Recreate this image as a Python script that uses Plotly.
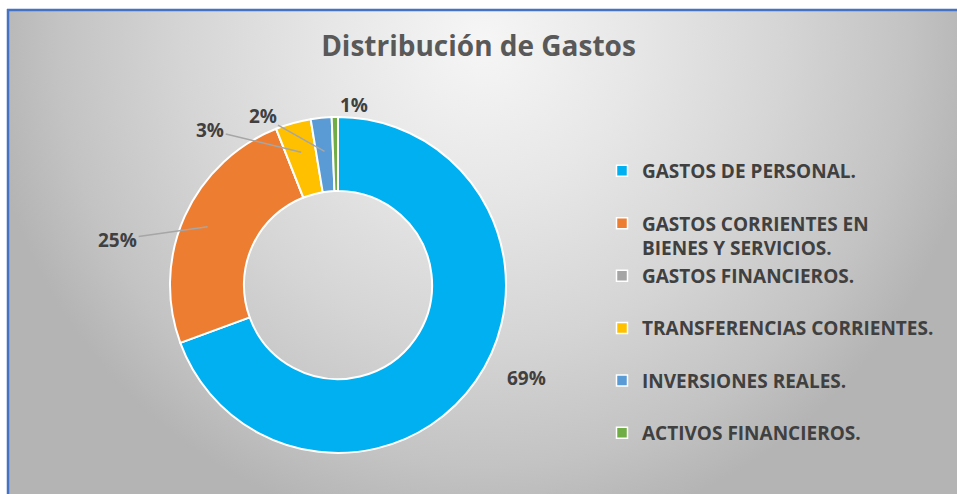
import math
import base64
import plotly.graph_objects as go

# ---------------- data ----------------
categories = [
    "GASTOS DE PERSONAL.",
    "GASTOS CORRIENTES EN BIENES Y SERVICIOS.",
    "GASTOS FINANCIEROS.",
    "TRANSFERENCIAS CORRIENTES.",
    "INVERSIONES REALES.",
    "ACTIVOS FINANCIEROS.",
]
legend_labels = [
    "GASTOS DE PERSONAL.",
    "GASTOS CORRIENTES EN<br>BIENES Y SERVICIOS.",
    "GASTOS FINANCIEROS.",
    "TRANSFERENCIAS CORRIENTES.",
    "INVERSIONES REALES.",
    "ACTIVOS FINANCIEROS.",
]
values = [69.4, 24.6, 0.0, 3.4, 2.0, 0.6]
colors = ["#00B0F0", "#ED7D31", "#A5A5A5", "#FFC000", "#5B9BD5", "#70AD47"]
title_text = "Distribución de Gastos"

# ---------------- layout / style ----------------
W, H = 957, 494
PCX, PCY, PR = 338, 285, 168          # donut centre / radius in pixels
hole = 0.56
pie_dom_x = [(PCX - PR) / W, (PCX + PR) / W]
pie_dom_y = [(H - PCY - PR) / H, (H - PCY + PR) / H]
# per-slice label style: (radius fraction of leader tip, text dx, text dy, show line)
label_style = [
    (1.00, 51, -3, False),
    (0.85, -90, 13, True),
    None,
    (0.82, -91, -22, True),
    (0.80, -62, -35, True),
    (1.00, 19, -12, False),
]
label_font = dict(family="Open Sans", size=19, color="#404040", weight="bold")

# background gradient (Excel-like radial grey)
bg_w, bg_h = W - 9, H - 11
svg = (
    f"<svg xmlns='http://www.w3.org/2000/svg' width='{bg_w}' height='{bg_h}'>"
    "<defs><radialGradient id='g' gradientUnits='userSpaceOnUse' "
    f"cx='{bg_w/2}' cy='30' r='500'>"
    "<stop offset='0' stop-color='#f6f6f6'/>"
    "<stop offset='0.3' stop-color='#e7e7e7'/>"
    "<stop offset='0.6' stop-color='#d5d5d5'/>"
    "<stop offset='0.85' stop-color='#c3c3c3'/>"
    "<stop offset='1' stop-color='#b4b4b4'/>"
    "</radialGradient></defs>"
    f"<rect width='{bg_w}' height='{bg_h}' fill='url(#g)'/></svg>"
)
bg_src = "data:image/svg+xml;base64," + base64.b64encode(svg.encode()).decode()

total = sum(values)
fig = go.Figure()

fig.add_trace(go.Pie(
    labels=categories, values=values, sort=False, direction="clockwise",
    rotation=0, hole=hole, textinfo="none", hoverinfo="label+percent",
    marker=dict(colors=colors, line=dict(color="white", width=2)),
    domain=dict(x=pie_dom_x, y=pie_dom_y), showlegend=False,
))

# legend entries
for lab, col in zip(legend_labels, colors):
    if "<br>" not in lab:
        lab = lab + "<br>&nbsp;"
    fig.add_trace(go.Scatter(
        x=[-10], y=[-10], mode="markers", name=lab,
        marker=dict(symbol="square", size=11, color=col,
                    line=dict(color="white", width=1.5)),
        hoverinfo="skip",
    ))

# data labels
annotations = []
cum = 0.0
for v, st in zip(values, label_style):
    mid = (cum + v / 2) / total * 2 * math.pi
    cum += v
    if st is None or v <= 0:
        continue
    rf, dx, dy, line = st
    tx = PCX + math.sin(mid) * PR * rf
    ty = PCY - math.cos(mid) * PR * rf
    txt = f"{round(v / total * 100)}%"
    if line:
        annotations.append(dict(
            x=tx / W, y=1 - ty / H, xref="paper", yref="paper",
            ax=dx, ay=dy, text=txt, showarrow=True, arrowhead=0,
            arrowwidth=1.5, arrowcolor="#A6A6A6", standoff=0,
            font=label_font,
        ))
    else:
        annotations.append(dict(
            x=(tx + dx) / W, y=1 - (ty + dy) / H, xref="paper", yref="paper",
            xanchor="center", yanchor="middle",
            text=txt, showarrow=False, font=label_font,
        ))

fig.update_layout(
    width=W, height=H,
    margin=dict(l=0, r=0, t=0, b=0),
    paper_bgcolor="white", plot_bgcolor="rgba(0,0,0,0)",
    xaxis=dict(range=[0, 1], visible=False, fixedrange=True),
    yaxis=dict(range=[0, 1], visible=False, fixedrange=True),
    images=[dict(source=bg_src, xref="paper", yref="paper",
                 x=9 / W, y=1 - 11 / H, sizex=bg_w / W, sizey=bg_h / H,
                 xanchor="left", yanchor="top", sizing="stretch", layer="below")],
    title=dict(text=f"<b>{title_text}</b>", x=0.5, xanchor="center",
               y=1 - 46 / H, yanchor="middle",
               font=dict(family="Open Sans", size=28, color="#595959")),
    legend=dict(x=602 / W, xanchor="left", y=1 - 152 / H, yanchor="top",
                valign="top", bgcolor="rgba(0,0,0,0)",
                font=dict(family="Open Sans", size=19, color="#404040", weight="bold")),
    annotations=annotations,
    shapes=[
        dict(type="line", xref="paper", yref="paper", x0=7 / W, x1=1,
             y0=1 - 10 / H, y1=1 - 10 / H, line=dict(color="#4472C4", width=2.5)),
        dict(type="line", xref="paper", yref="paper", x0=8 / W, x1=8 / W,
             y0=0, y1=1 - 9 / H, line=dict(color="#4472C4", width=2.5)),
    ],
)

fig.write_html(
    "out.html",
    config={"displayModeBar": False},
    post_script="document.body.style.margin='0';document.body.style.overflow='hidden';",
)
